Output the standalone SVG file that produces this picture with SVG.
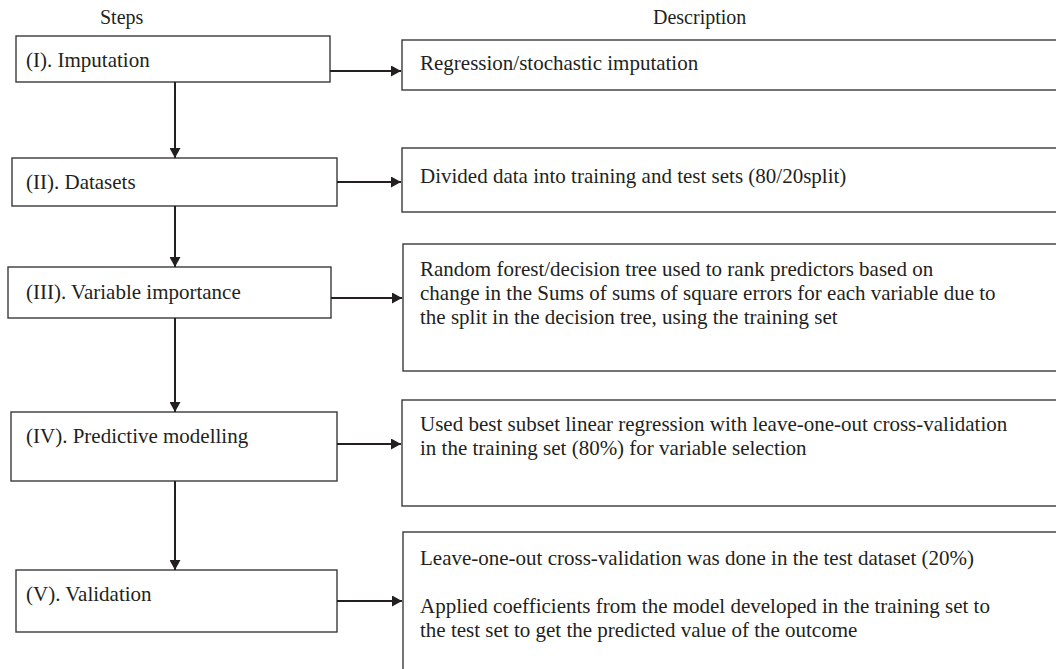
<svg xmlns="http://www.w3.org/2000/svg" width="1056" height="669" viewBox="0 0 1056 669">
<defs>
<marker id="ah" viewBox="0 0 10 10" refX="10" refY="5" markerWidth="10" markerHeight="11" markerUnits="userSpaceOnUse" orient="auto" preserveAspectRatio="none">
<path d="M0,0 L10,5 L0,10 Z" fill="#231f20"/>
</marker>
<style>
.box{fill:#fff;stroke:#3a3a3a;stroke-width:1.4}
.t{font-family:"Liberation Serif","Times New Roman",serif;font-size:21px;fill:#231f20}
.h{font-family:"Liberation Serif","Times New Roman",serif;font-size:20px;fill:#231f20}
.c{stroke:#231f20;stroke-width:2;fill:none;marker-end:url(#ah)}
</style>
</defs>
<rect width="1056" height="669" fill="#fff"/>
<text class="h" x="100" y="24">Steps</text>
<text class="h" x="653" y="24">Description</text>

<g id="step1"><rect class="box" x="16" y="36" width="314" height="46"/><text class="t" x="26" y="67">(I). Imputation</text></g>
<g id="step2"><rect class="box" x="12" y="158" width="325" height="48"/><text class="t" x="26" y="189">(II). Datasets</text></g>
<g id="step3"><rect class="box" x="8" y="267" width="323" height="51"/><text class="t" x="26" y="299">(III). Variable importance</text></g>
<g id="step4"><rect class="box" x="11" y="412" width="326" height="69"/><text class="t" x="26" y="443">(IV). Predictive modelling</text></g>
<g id="step5"><rect class="box" x="16" y="570" width="321" height="62"/><text class="t" x="26" y="601">(V). Validation</text></g>

<g id="desc1"><rect class="box" x="402" y="40" width="700" height="50"/><text class="t" x="420" y="70">Regression/stochastic imputation</text></g>
<g id="desc2"><rect class="box" x="402" y="148" width="700" height="64"/><text class="t" x="420" y="183">Divided data into training and test sets (80/20split)</text></g>
<g id="desc3"><rect class="box" x="403" y="244" width="700" height="127"/>
<text class="t" x="420" y="276">Random forest/decision tree used to rank predictors based on</text>
<text class="t" x="420" y="300">change in the Sums of sums of square errors for each variable due to</text>
<text class="t" x="420" y="324">the split in the decision tree, using the training set</text></g>
<g id="desc4"><rect class="box" x="402" y="400" width="700" height="106"/>
<text class="t" x="420" y="431">Used best subset linear regression with leave-one-out cross-validation</text>
<text class="t" x="420" y="455">in the training set (80%) for variable selection</text></g>
<g id="desc5"><rect class="box" x="403" y="532" width="700" height="160"/>
<text class="t" x="420" y="565">Leave-one-out cross-validation was done in the test dataset (20%)</text>
<text class="t" x="420" y="613">Applied coefficients from the model developed in the training set to</text>
<text class="t" x="420" y="637">the test set to get the predicted value of the outcome</text></g>

<g id="connectors">
<line class="c" x1="175" y1="82" x2="175" y2="158"/>
<line class="c" x1="175" y1="206" x2="175" y2="267"/>
<line class="c" x1="175" y1="318" x2="175" y2="412"/>
<line class="c" x1="175" y1="481" x2="175" y2="570"/>
<line class="c" x1="330" y1="71" x2="401" y2="71"/>
<line class="c" x1="337" y1="182" x2="401" y2="182"/>
<line class="c" x1="331" y1="298" x2="402" y2="298"/>
<line class="c" x1="337" y1="444" x2="401" y2="444"/>
<line class="c" x1="337" y1="601" x2="402" y2="601"/>
</g>
</svg>
